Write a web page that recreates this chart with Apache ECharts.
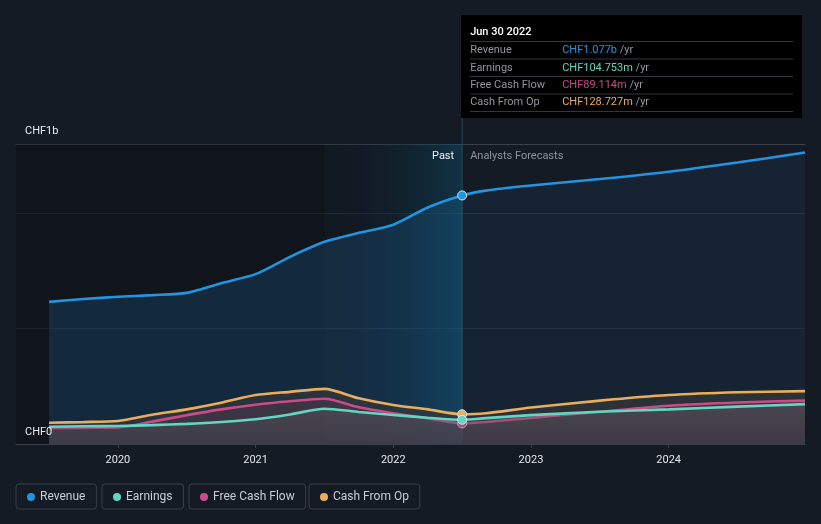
<!DOCTYPE html>
<html><head><meta charset="utf-8">
<script src="https://cdn.jsdelivr.net/npm/echarts@6/dist/echarts.min.js"></script>
<style>html,body{margin:0;padding:0;background:#151b25;}#c{width:821px;height:524px;}</style>
</head><body><div id="c"></div>
<script>
// decimal years of each data point
const years = [2019.5, 2019.75, 2020.0, 2020.25, 2020.5, 2020.75, 2021.0, 2021.25, 2021.5, 2021.75, 2022.0, 2022.25, 2022.5, 2022.67, 2023.0, 2023.5, 2024.0, 2024.5, 2024.99];
// values in CHF billions
const revenue  = [0.616, 0.628, 0.638, 0.645, 0.655, 0.697, 0.736, 0.811, 0.876, 0.915, 0.950, 1.025, 1.077, 1.098, 1.120, 1.148, 1.180, 1.220, 1.263];
const earnings = [0.075, 0.077, 0.078, 0.082, 0.087, 0.095, 0.107, 0.128, 0.153, 0.139, 0.126, 0.114, 0.104753, 0.112, 0.125, 0.140, 0.150, 0.162, 0.173];
const fcf      = [0.068, 0.070, 0.072, 0.097, 0.125, 0.150, 0.170, 0.185, 0.196, 0.159, 0.133, 0.111, 0.089114, 0.095, 0.113, 0.140, 0.166, 0.180, 0.188];
const cfo      = [0.092, 0.095, 0.100, 0.127, 0.150, 0.179, 0.212, 0.226, 0.239, 0.198, 0.169, 0.150, 0.128727, 0.133, 0.158, 0.188, 0.212, 0.224, 0.229];
const tickYears = [2020, 2021, 2022, 2023, 2024];
const pastStart = 2021.5;     // start of highlighted last year
const nowYear = 2022.5;       // Jun 30 2022
const nowLabel = 'Jun 30 2022';
const xMin = 2019.26, xMax = 2024.99;
const yMax = 1.3;

const names = ['Revenue', 'Earnings', 'Free Cash Flow', 'Cash From Op'];
const colors = { 'Revenue': '#2394e0', 'Earnings': '#62d6c0', 'Free Cash Flow': '#cc4a88', 'Cash From Op': '#e9ad5d' };
const nowIdx = years.indexOf(nowYear);
const nowFrac = (nowYear - years[0]) / (years[years.length - 1] - years[0]);

function mkData(arr, color) {
  return arr.map((v, i) => i === nowIdx
    ? { value: [years[i], v], symbol: 'circle', symbolSize: 9, itemStyle: { color: color, borderColor: '#d6e4ee', borderWidth: 1 } }
    : { value: [years[i], v] });
}
function fmt(v) { return v >= 1 ? 'CHF' + v.toFixed(3) + 'b' : 'CHF' + (v * 1000).toFixed(3) + 'm'; }

const chart = echarts.init(document.getElementById('c'));
const font = 'Roboto, "Noto Sans", sans-serif';

function lineSeries(name, arr, area, z) {
  return {
    name: name, type: 'line', smooth: 0.25, symbol: 'none', showSymbol: true,
    data: mkData(arr, colors[name]), z: z,
    lineStyle: { color: colors[name], width: 2.6 },
    itemStyle: { color: colors[name] },
    areaStyle: area, emphasis: { disabled: true }
  };
}

const revSeries = lineSeries('Revenue', revenue, {
  color: new echarts.graphic.LinearGradient(0, 0, 1, 0, [
    { offset: 0, color: 'rgba(35,140,220,0.24)' }, { offset: nowFrac, color: 'rgba(35,140,220,0.24)' },
    { offset: nowFrac, color: 'rgba(35,140,220,0.10)' }, { offset: 1, color: 'rgba(35,140,220,0.10)' }])
}, 2);
revSeries.markArea = {
  silent: true,
  data: [
    [{ xAxis: xMin, itemStyle: { color: 'rgba(0,0,0,0.22)' } }, { xAxis: pastStart }],
    [{ xAxis: pastStart, itemStyle: { color: new echarts.graphic.LinearGradient(0, 0, 1, 0, [
      { offset: 0, color: 'rgba(0,0,0,0.12)' }, { offset: 1, color: 'rgba(8,90,120,0.38)' }]) } }, { xAxis: nowYear }]
  ]
};

const option = {
  backgroundColor: '#151b25',
  animation: false,
  textStyle: { fontFamily: font },
  grid: { left: 16, right: 16, top: 144, bottom: 80 },
  xAxis: [{
    type: 'value', min: xMin, max: xMax,
    axisLine: { lineStyle: { color: '#3a404a', width: 1 } },
    axisTick: { show: true, customValues: tickYears, length: 4, lineStyle: { color: '#3a404a' } },
    axisLabel: { customValues: tickYears, color: '#e4e6ea', fontSize: 11, margin: 11, formatter: v => String(Math.round(v)) },
    splitLine: { show: false }
  }, {
    type: 'value', position: 'top', min: xMin, max: xMax,
    axisLine: { show: true, lineStyle: { color: '#3a404a' } },
    axisTick: { show: false }, axisLabel: { show: false }, splitLine: { show: false }
  }],
  yAxis: {
    type: 'value', min: 0, max: yMax, interval: 0.5,
    axisLine: { show: false }, axisTick: { show: false }, axisLabel: { show: false },
    splitLine: { lineStyle: { color: 'rgba(255,255,255,0.08)' } }
  },
  legend: names.map((n, i) => ({
    data: [n], left: [16, 102, 189, 309][i], top: 484,
    icon: 'circle', itemWidth: 8, itemHeight: 8, itemGap: 5,
    borderColor: '#3a404a', borderWidth: 1, borderRadius: 3, padding: [7, 11, 6, 11],
    textStyle: { color: '#c9cdd3', fontSize: 12, fontFamily: font }, selectedMode: false
  })),
  series: [
    revSeries,
    lineSeries('Cash From Op', cfo, { color: 'rgba(56,58,59,0.88)' }, 3),
    lineSeries('Free Cash Flow', fcf, { color: 'rgba(204,74,136,0.16)' }, 4),
    lineSeries('Earnings', earnings, { color: new echarts.graphic.LinearGradient(0, 0, 0, 1, [
      { offset: 0, color: 'rgba(100,103,108,0.5)' }, { offset: 1, color: 'rgba(66,70,80,0.5)' }]) }, 5)
  ]
};
chart.setOption(option);

// overlays positioned from the axes
const pNow = chart.convertToPixel({ xAxisIndex: 0, yAxisIndex: 0 }, [nowYear, yMax]);
const p0 = chart.convertToPixel({ xAxisIndex: 0, yAxisIndex: 0 }, [xMin, 0]);
const pTop = chart.convertToPixel({ xAxisIndex: 0, yAxisIndex: 0 }, [xMin, yMax]);
const tx = pNow[0] - 1, ty = 15, tw = 341, th = 103;
const rows = [
  ['Revenue', revenue[nowIdx]], ['Earnings', earnings[nowIdx]],
  ['Free Cash Flow', fcf[nowIdx]], ['Cash From Op', cfo[nowIdx]]
];
const g = [
  { type: 'line', silent: true, z: 1, shape: { x1: pNow[0], y1: ty + th, x2: pNow[0], y2: p0[1] }, style: { stroke: '#1f4c5c', lineWidth: 1 } },
  { type: 'text', z: 10, x: pNow[0] - 8, y: pNow[1] + 12, style: { text: 'Past', fill: '#eef1f4', fontSize: 11, fontFamily: font, align: 'right', verticalAlign: 'middle' } },
  { type: 'text', z: 10, x: pNow[0] + 8, y: pNow[1] + 12, style: { text: 'Analysts Forecasts', fill: '#8e939b', fontSize: 11, fontFamily: font, verticalAlign: 'middle' } },
  { type: 'text', z: 10, x: p0[0] + 9, y: pTop[1] - 13, style: { text: 'CHF1b', fill: '#e8eaee', fontSize: 11, fontFamily: font, verticalAlign: 'middle' } },
  { type: 'text', z: 10, x: p0[0] + 9, y: p0[1] - 12, style: { text: 'CHF0', fill: '#e8eaee', fontSize: 11, fontFamily: font, verticalAlign: 'middle' } },
  { type: 'rect', z: 20, shape: { x: tx, y: ty, width: tw, height: th }, style: { fill: '#000000' } },
  { type: 'text', z: 21, x: tx + 9, y: ty + 17, style: { text: nowLabel, fill: '#ffffff', fontSize: 11, fontWeight: 500, fontFamily: font, verticalAlign: 'middle' } }
];
const seps = [26.5, 44, 61.5, 79, 96.5];
seps.forEach(s => g.push({ type: 'line', z: 21, shape: { x1: tx + 9, y1: ty + s, x2: tx + tw - 9, y2: ty + s }, style: { stroke: '#33363b', lineWidth: 1 } }));
rows.forEach((r, i) => {
  const cy = ty + 35.5 + i * 17.4;
  g.push({ type: 'text', z: 21, x: tx + 9, y: cy, style: { text: r[0], fill: '#92969c', fontSize: 11, fontFamily: font, verticalAlign: 'middle' } });
  g.push({ type: 'text', z: 21, x: tx + 101, y: cy, style: {
    text: '{v|' + fmt(r[1]) + '}{u| /yr}', verticalAlign: 'middle', fontFamily: font,
    rich: { v: { fill: colors[r[0]], fontSize: 11, fontFamily: font }, u: { fill: '#92969c', fontSize: 11, fontFamily: font } } } });
});
chart.setOption({ graphic: g });
</script></body></html>
